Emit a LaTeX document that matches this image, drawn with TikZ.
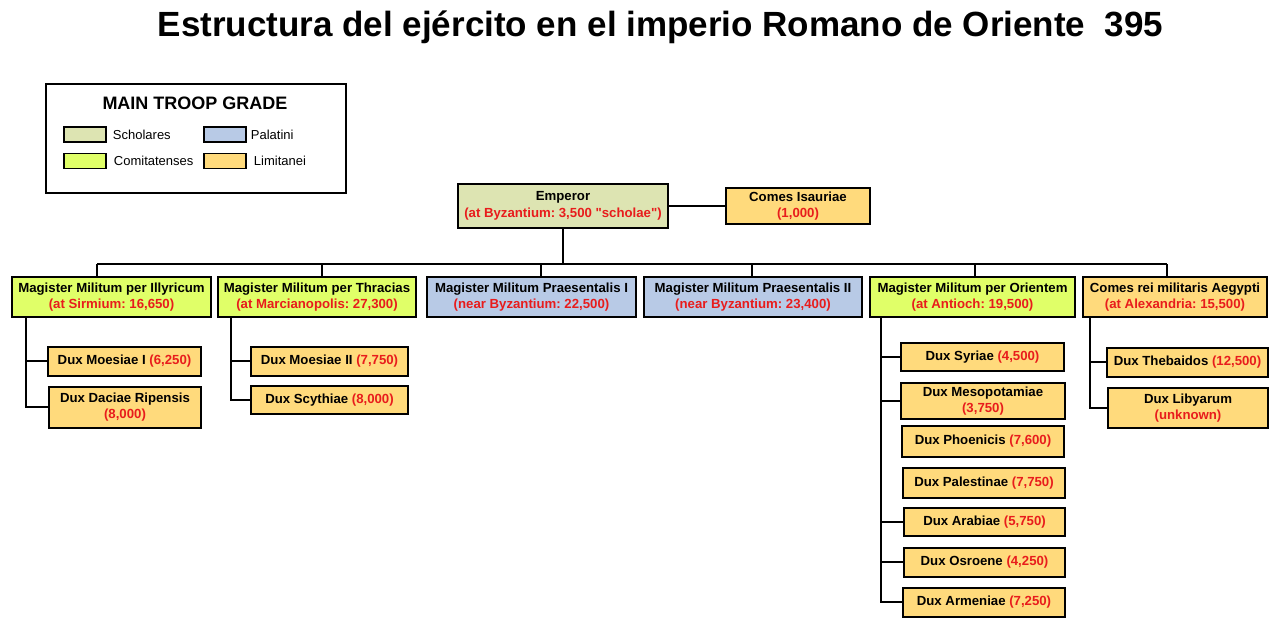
\documentclass[tikz,border=0pt]{standalone}
\usepackage{fontspec}
\setmainfont{Liberation Sans}[Ligatures=TeXOff]
\usetikzlibrary{positioning,calc}
\frenchspacing

\definecolor{scholcol}{RGB}{221,228,178}
\definecolor{palcol}{RGB}{184,202,230}
\definecolor{comcol}{RGB}{224,255,104}
\definecolor{limcol}{RGB}{255,218,124}
\definecolor{numred}{RGB}{232,28,28}
\newcommand{\nr}[1]{\textcolor{numred}{#1}}

\tikzset{
  unit/.style={draw=black,line width=2pt,inner sep=0pt,align=center,
    font=\fontsize{13.2}{16}\selectfont\bfseries},
  sch/.style={unit,fill=scholcol},
  pal/.style={unit,fill=palcol},
  com/.style={unit,fill=comcol},
  lim/.style={unit,fill=limcol},
  link/.style={line width=2pt,black},
  swatch/.style={draw=black,line width=1.5pt,minimum width=42pt,minimum height=15pt,inner sep=0pt},
  keytext/.style={inner sep=0pt,font=\fontsize{13}{15}\selectfont}
}

\begin{document}
\begin{tikzpicture}[x=1pt,y=-1pt]
    \useasboundingbox (0,0) rectangle (1280,626);

    \node[font=\fontsize{35}{40}\selectfont\bfseries] (title) at (660.5,27)
      {Estructura del ejército en el imperio Romano de Oriente\ \ 395};

    % legend
    \node[draw,line width=1.5pt,minimum width=300pt,minimum height=109pt] (legend) at (196,138.5) {};
    \node[font=\fontsize{18}{20}\selectfont\bfseries] (legtitle) at (195,103) {MAIN TROOP GRADE};
    \node[swatch,fill=scholcol] (kS) at (85,134.5) {};
    \node[keytext,right=6pt of kS] {Scholares};
    \node[swatch,fill=palcol] (kP) at (225,134.5) {};
    \node[keytext,right=4pt of kP] {Palatini};
    \node[swatch,fill=comcol] (kC) at (85,161) {};
    \node[keytext,right=7pt of kC] {Comitatenses};
    \node[swatch,fill=limcol] (kL) at (225,161) {};
    \node[keytext,right=7pt of kL] {Limitanei};

    % top
    \node[sch,minimum width=210pt,minimum height=44pt] (emp) at (563,206)
      {Emperor\\[1pt]\nr{(at Byzantium: 3,500 "scholae")}};
    \node[lim,minimum width=144pt,minimum height=36pt] (isau) at (798,206)
      {Comes Isauriae\\\nr{(1,000)}};
    \draw[link] (emp) -- (isau);

    % magistri and comites
    \node[com,minimum width=199pt,minimum height=40pt] (illy) at (111.5,297)
      {Magister Militum per Illyricum\\\nr{(at Sirmium: 16,650)}};
    \node[com,minimum width=198pt,minimum height=40pt] (thra) at (317,297)
      {Magister Militum per Thracias\\\nr{(at Marcianopolis: 27,300)}};
    \node[pal,minimum width=209pt,minimum height=40pt] (pra1) at (531.5,297)
      {Magister Militum Praesentalis I\\\nr{(near Byzantium: 22,500)}};
    \node[pal,minimum width=218pt,minimum height=40pt] (pra2) at (753,297)
      {Magister Militum Praesentalis II\\\nr{(near Byzantium: 23,400)}};
    \node[com,minimum width=205pt,minimum height=40pt] (orie) at (972.5,297)
      {Magister Militum per Orientem\\\nr{(at Antioch: 19,500)}};
    \node[lim,minimum width=184pt,minimum height=40pt] (aegy) at (1175,297)
      {Comes rei militaris Aegypti\\\nr{(at Alexandria: 15,500)}};

    \coordinate (barL) at (97,264);
    \coordinate (barR) at (1167,264);
    \draw[link] (emp.south) -- (emp.south |- barL);
    \draw[link] (barL) -- (barR);
    \foreach \x/\n in {97/illy,322/thra,541/pra1,752/pra2,975/orie,1167/aegy}{
      \coordinate (t\n) at (\x,264);
      \draw[link] (t\n) -- (t\n |- \n.north);
    }

    % duces
    \node[lim,minimum width=153pt,minimum height=29pt] (moe1) at (124.5,361) {Dux Moesiae I \nr{(6,250)}};
    \node[lim,minimum width=152pt,minimum height=41pt] (daci) at (125,407) {Dux Daciae Ripensis\\\nr{(8,000)}};
    \node[lim,minimum width=157pt,minimum height=29pt] (moe2) at (329.5,361) {Dux Moesiae II \nr{(7,750)}};
    \node[lim,minimum width=157pt,minimum height=28pt] (scyt) at (329.5,400) {Dux Scythiae \nr{(8,000)}};

    \node[lim,minimum width=163pt,minimum height=28pt] (syri) at (982.5,357) {Dux Syriae \nr{(4,500)}};
    \node[lim,minimum width=164pt,minimum height=36pt] (meso) at (983,401) {Dux Mesopotamiae\\\nr{(3,750)}};
    \node[lim,minimum width=162pt,minimum height=31pt] (phoe) at (983,441.5) {Dux Phoenicis \nr{(7,600)}};
    \node[lim,minimum width=162pt,minimum height=30pt] (pale) at (984,483) {Dux Palestinae \nr{(7,750)}};
    \node[lim,minimum width=161pt,minimum height=28pt] (arab) at (984.5,522) {Dux Arabiae \nr{(5,750)}};
    \node[lim,minimum width=161pt,minimum height=29pt] (osro) at (984.5,562) {Dux Osroene \nr{(4,250)}};
    \node[lim,minimum width=162pt,minimum height=29pt] (arme) at (984,602) {Dux Armeniae \nr{(7,250)}};

    \node[lim,minimum width=161pt,minimum height=29pt] (theb) at (1187.5,362) {Dux Thebaidos \nr{(12,500)}};
    \node[lim,minimum width=160pt,minimum height=40pt] (liby) at (1188,408) {Dux Libyarum\\\nr{(unknown)}};

    \coordinate (ki) at ([xshift=-85.5pt]illy.south);
    \draw[link] (ki) |- (daci.west);
    \draw[link] (ki |- moe1.west) -- (moe1.west);

    \coordinate (kt) at ([xshift=-86pt]thra.south);
    \draw[link] (kt) |- (scyt.west);
    \draw[link] (kt |- moe2.west) -- (moe2.west);

    \coordinate (ko) at ([xshift=-91.5pt]orie.south);
    \draw[link] (ko) |- (arme.west);
    \foreach \n in {syri,meso,arab,osro}
      \draw[link] (ko |- \n.west) -- (\n.west);

    \coordinate (ka) at ([xshift=-85pt]aegy.south);
    \draw[link] (ka) |- (liby.west);
    \draw[link] (ka |- theb.west) -- (theb.west);
  \end{tikzpicture}
\end{document}
